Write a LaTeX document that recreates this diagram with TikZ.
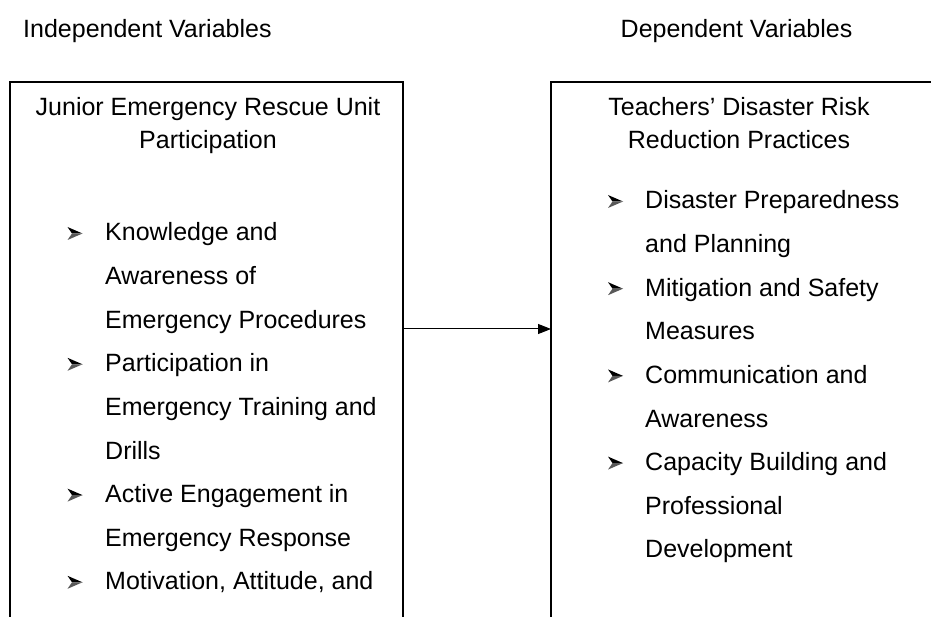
\documentclass[tikz,border=0pt]{standalone}
\usepackage{fontspec}
\setmainfont{Liberation Sans}
\usetikzlibrary{arrows.meta}
\begin{document}
\begin{tikzpicture}[x=1pt,y=-1pt,
  txt/.style={anchor=base west, inner sep=0pt, font=\fontsize{25}{30}\selectfont},
  ttl/.style={anchor=base, inner sep=0pt, font=\fontsize{25}{30}\selectfont},
  panel/.style={draw, line width=2pt, inner sep=0pt, outer sep=0pt,
    anchor=north west, minimum width=#1, minimum height=600pt},
  link/.style={line width=1pt, -{Triangle[length=13pt,width=10pt]}},
  arrowbullet/.pic={
    \fill[black] (0,-6.5) -- (15,0) -- (4.5,0) -- cycle;
    \fill[black!65] (0,6.5) -- (15,0) -- (4.5,0) -- cycle;
  }
]
\useasboundingbox (0,0) rectangle (931,617);
\clip (0,0) rectangle (931,617);

% column headings
\node[txt] (indep) at (23,37.5) {Independent Variables};
\node[txt] (dep) at (620.5,37.5) {Dependent Variables};

% the two variable panels (running past the page edge)
\node[panel=393.5pt] (lbox) at (9.5,82) {};
\node[panel=383pt] (rbox) at (551,82) {};

% panel titles
\node[ttl] (lt1) at (208,116) {Junior Emergency Rescue Unit};
\node[ttl] (lt2) at (208,149) {Participation};
\node[ttl] (rt1) at (739,116) {Teachers’ Disaster Risk};
\node[ttl] (rt2) at (739,149) {Reduction Practices};

% independent variable items
\foreach \t [count=\i from 0] in {Knowledge and, Awareness of,
  Emergency Procedures, Participation in, Emergency Training and, Drills,
  Active Engagement in, Emergency Response, {Motivation, Attitude, and}}
  \node[txt] (l\i) at (105,{241+43.6*\i}) {\t};
\foreach \i in {0,3,6,8}
  \pic at (67.5,{241+43.6*\i-7.5}) {arrowbullet};

% dependent variable items
\foreach \t [count=\i from 0] in {Disaster Preparedness, and Planning,
  Mitigation and Safety, Measures, Communication and, Awareness,
  Capacity Building and, Professional, Development}
  \node[txt] (r\i) at (645,{209+43.6*\i}) {\t};
\foreach \i in {0,2,4,6}
  \pic at (608,{209+43.6*\i-7.5}) {arrowbullet};

% influence arrow
\coordinate (ay) at (0,329);
\draw[link] (lbox.east |- ay) -- (rbox.west |- ay);
\end{tikzpicture}
\end{document}
